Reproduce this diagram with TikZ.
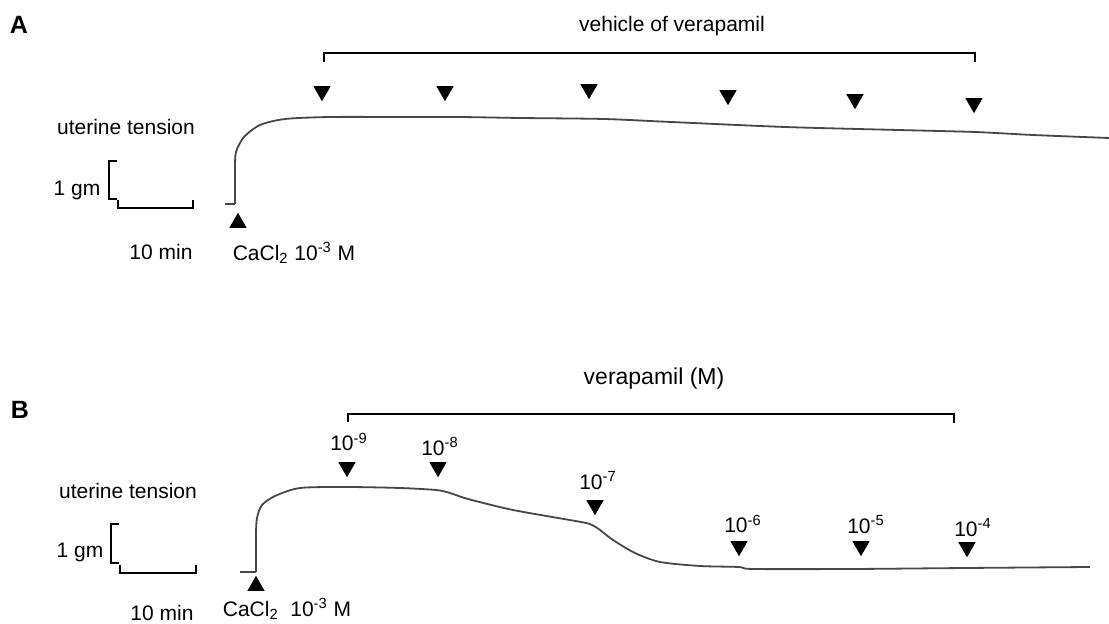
\documentclass[tikz,border=0pt]{standalone}
\usepackage{fontspec}
\setmainfont{Liberation Sans}
\usetikzlibrary{shapes.geometric}
\begin{document}
\begin{tikzpicture}[x=0.5pt, y=-0.5pt,
  lbl/.style={font=\fontsize{10.5}{12}\selectfont, inner sep=0pt},
  panel/.style={font=\fontsize{12.5}{14}\selectfont\bfseries, inner sep=0pt},
  tridown/.style={regular polygon, regular polygon sides=3, shape border rotate=180, fill=black, inner sep=0pt, minimum size=10pt, anchor=corner 1},
  triup/.style={regular polygon, regular polygon sides=3, fill=black, inner sep=0pt, minimum size=10pt, anchor=corner 1},
  trace/.style={line width=0.9pt, draw=black!72, line join=round},
  bar/.style={line width=0.8pt}]
  \useasboundingbox (0,0) rectangle (1109,624);

  % panel A
  \node[panel] (A) at (19,25) {A};
  \node[lbl] (vehA) at (672,26) {vehicle of verapamil};
  \draw[bar] (324,62) -- (324,53) -- (975,53) -- (975,62);
  \node[lbl] (utA) at (126,127) {uterine tension};
  \node[lbl] (gmA) at (77,190) {1 gm};
  \node[lbl] (minA) at (161,252) {10 min};
  \draw[bar] (117,161) -- (109,161) -- (109,199) -- (117,199);
  \draw[bar] (118,200) -- (118,208) -- (193,208) -- (193,200);
  \node[triup] (caA) at (238,212) {};
  \node[lbl] (caTextA) at (294,253) {CaCl\textsubscript{2} 10\textsuperscript{-3} M};
  \node[tridown] (a1) at (322,102) {};
  \node[tridown] (a2) at (445,102) {};
  \node[tridown] (a3) at (589,100) {};
  \node[tridown] (a4) at (728,106) {};
  \node[tridown] (a5) at (855,110) {};
  \node[tridown] (a6) at (974,114) {};
  \draw[trace] (225,204) -- (235,204);
  \draw[trace] plot[smooth, tension=0.45] coordinates {(235,204) (235,170) (236,152) (244,137) (260,125) (285,119) (330,117) (400,117) (459,117) (520,118) (604,119) (671,122) (785,127) (898,130) (975,132) (1033,135) (1109,138)};

  % panel B
  \node[panel] (B) at (20,410) {B};
  \node[lbl, font=\fontsize{11.5}{13}\selectfont] (verB) at (654,379) {verapamil (M)};
  \draw[bar] (348,422) -- (348,414) -- (954,414) -- (954,423);
  \node[lbl] (utB) at (128,491) {uterine tension};
  \node[lbl] (gmB) at (80,552) {1 gm};
  \node[lbl] (minB) at (162,613) {10 min};
  \draw[bar] (119,524) -- (111,524) -- (111,563) -- (119,563);
  \draw[bar] (120,565) -- (120,573) -- (196,573) -- (196,565);
  \node[triup] (caB) at (256,575) {};
  \node[lbl] (caTextB) at (287,609) {CaCl\textsubscript{2}\ \ 10\textsuperscript{-3} M};
  \node[tridown] (b9) at (347,478) {};
  \node[tridown] (b8) at (438,478) {};
  \node[tridown] (b7) at (595,516) {};
  \node[tridown] (b6) at (739,557) {};
  \node[tridown] (b5) at (861,557) {};
  \node[tridown] (b4) at (967,558) {};
  \node[lbl] (l9) at (349,442) {10\textsuperscript{-9}};
  \node[lbl] (l8) at (440,446) {10\textsuperscript{-8}};
  \node[lbl] (l7) at (598,481) {10\textsuperscript{-7}};
  \node[lbl] (l6) at (743,524) {10\textsuperscript{-6}};
  \node[lbl] (l5) at (866,525) {10\textsuperscript{-5}};
  \node[lbl] (l4) at (973,528) {10\textsuperscript{-4}};
  \draw[trace] (240,572) -- (256,572);
  \draw[trace] plot[smooth, tension=0.45] coordinates {(256,572) (256,534) (257,518) (262,505) (275,496) (300,488) (347,487) (400,488) (436,490) (450,493) (468,499) (513,510) (581,522) (592,525) (600,530) (613,540) (635,553) (660,562) (700,566) (739,567) (753,569) (852,569) (966,568) (1090,567)};
\end{tikzpicture}
\end{document}
